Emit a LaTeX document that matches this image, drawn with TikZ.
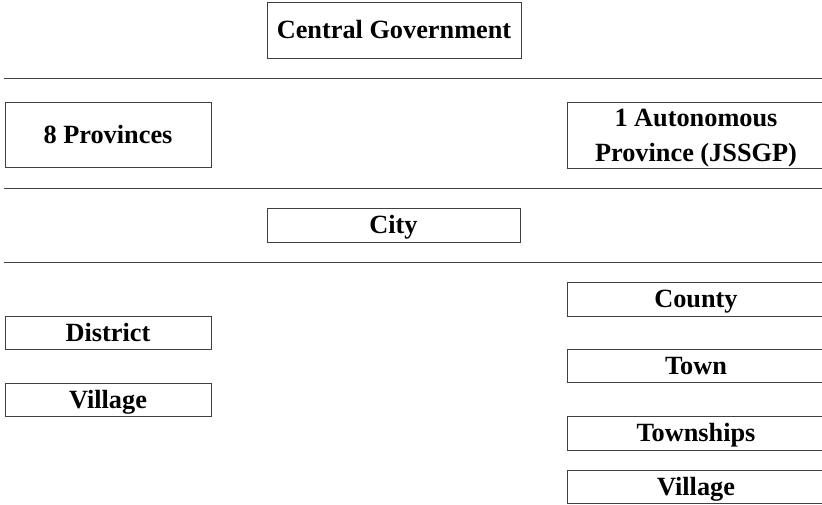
\documentclass[tikz,border=0pt]{standalone}
\usepackage{fontspec}
\setmainfont{Liberation Serif}
\begin{document}
\begin{tikzpicture}[x=1pt,y=-1pt,
    level/.style={draw=black!75, line width=0.9pt, rectangle, inner sep=0pt,
      font=\fontsize{26.3}{35}\selectfont\bfseries, align=center,
      text height=17.5pt, text depth=0pt},
    sep/.style={draw=black!75, line width=0.9pt}]
            \clip (0,0) rectangle (822,505);
            \node [level, minimum width=254, minimum height=56] (central) at (394,30) {Central Government};
            \draw [sep] (4,78) -- (822,78);
            \node [level, minimum width=206, minimum height=65] (provinces) at (108,134.5) {8 Provinces};
            \node [level, minimum width=258, minimum height=66, text height=52.5pt] (jssgp) at (696,135) {1 Autonomous\\Province (JSSGP)};
            \draw [sep] (4,188) -- (822,188);
            \node [level, minimum width=253, minimum height=34] (city) at (393.5,225) {City};
            \draw [sep] (4,262) -- (822,262);
            \node [level, minimum width=206, minimum height=33] (district) at (108,332.5) {District};
            \node [level, minimum width=206, minimum height=33] (villageL) at (108,399.5) {Village};
            \node [level, minimum width=258, minimum height=34] (county) at (696,299) {County};
            \node [level, minimum width=258, minimum height=33] (town) at (696,365.5) {Town};
            \node [level, minimum width=258, minimum height=34] (townships) at (696,433) {Townships};
            \node [level, minimum width=258, minimum height=33] (villageR) at (696,486.5) {Village};
\end{tikzpicture}
\end{document}
